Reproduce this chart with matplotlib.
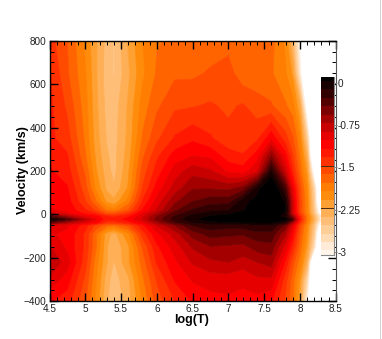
import numpy as np
import matplotlib
matplotlib.use("Agg")
import matplotlib.pyplot as plt
from matplotlib.colors import ListedColormap, BoundaryNorm
from matplotlib.patches import Rectangle
from matplotlib.ticker import MultipleLocator

plt.rcParams['font.family'] = ['Liberation Sans', 'DejaVu Sans']

log_t = [4.5, 4.75, 5, 5.15, 5.3, 5.4, 5.6, 5.8, 6, 6.25, 6.5, 6.75, 7, 7.2, 7.4, 7.6, 7.8, 7.9, 8, 8.1, 8.2, 8.3, 8.5]
velocity = [-400, -300, -220, -150, -90, -50, -38, -23, -8, 5, 20, 60, 120, 200, 270, 350, 500, 650, 800]

row_m400 = [-1.15, -1.25, -1.6, -1.95, -2.35, -2.48, -2.3, -1.9, -1.55, -1.32, -1.15, -1.08, -1.05, -1.05, -1.08, -1.15, -1.5, -1.75, -2.2, -3.0, -4, -4, -4]
row_m300 = [-0.9, -1.1, -1.5, -1.9, -2.3, -2.45, -2.25, -1.8, -1.45, -1.15, -1.0, -0.95, -0.95, -1.0, -0.9, -0.9, -1.4, -1.7, -2.05, -2.7, -4, -4, -4]
row_m220 = [-0.72, -0.95, -1.4, -1.85, -2.2, -2.38, -2.1, -1.7, -1.3, -1.05, -0.85, -0.75, -0.72, -0.78, -0.72, -0.65, -1.2, -1.55, -1.85, -2.3, -4, -4, -4]
row_m150 = [-0.85, -1.05, -1.35, -1.75, -2.2, -2.35, -2.1, -1.6, -1.2, -0.95, -0.7, -0.58, -0.6, -0.62, -0.5, -0.47, -0.95, -1.3, -1.7, -2.1, -2.8, -4, -4]
row_m90 = [-1.0, -1.05, -1.35, -1.75, -2.15, -2.28, -1.95, -1.4, -1.05, -0.8, -0.5, -0.35, -0.38, -0.4, -0.32, -0.32, -0.7, -1.1, -1.6, -2.0, -2.6, -4, -4]
row_m50 = [-0.95, -1.0, -1.25, -1.5, -1.7, -1.75, -1.55, -1.2, -0.85, -0.55, -0.25, -0.17, -0.2, -0.18, -0.12, -0.12, -0.45, -0.95, -1.5, -1.95, -2.5, -3.4, -4]
row_m38 = [-0.4, -0.7, -0.95, -1.1, -1.4, -1.4, -1.25, -1.0, -0.65, -0.3, -0.1, 0.0, 0.02, 0.05, 0.05, 0.05, -0.15, -0.7, -1.35, -1.85, -2.4, -3.2, -4]
row_m23 = [0.05, -0.3, -0.75, -1.0, -1.25, -1.25, -1.1, -0.85, -0.5, -0.2, 0.0, 0.1, 0.1, 0.1, 0.1, 0.1, 0.1, -0.3, -1.2, -1.8, -2.3, -3.0, -4]
row_m8 = [-0.35, -0.7, -1.0, -1.1, -1.3, -1.35, -1.2, -0.9, -0.55, -0.25, -0.05, 0.05, 0.1, 0.1, 0.1, 0.15, -0.05, -0.6, -1.3, -1.8, -2.35, -3.05, -4]
row_p5 = [-0.8, -1.0, -1.2, -1.3, -1.6, -1.6, -1.4, -1.0, -0.7, -0.35, -0.15, -0.05, 0.0, 0.1, 0.1, 0.15, 0.0, -0.85, -1.45, -1.9, -2.5, -3.3, -4]
row_p20 = [-1.0, -1.05, -1.3, -1.5, -1.8, -1.85, -1.6, -1.15, -0.85, -0.45, -0.25, -0.15, -0.12, 0.02, 0.1, 0.2, 0.05, -0.85, -1.5, -1.9, -2.55, -3.5, -4]
row_p60 = [-1.05, -1.1, -1.45, -1.75, -2.1, -2.18, -1.85, -1.3, -0.95, -0.6, -0.42, -0.33, -0.33, -0.03, 0.1, 0.25, 0.0, -0.85, -1.5, -1.9, -2.6, -4, -4]
row_p120 = [-1.1, -1.15, -1.55, -1.95, -2.25, -2.35, -2.05, -1.45, -1.1, -0.8, -0.58, -0.58, -0.6, -0.5, -0.05, 0.3, -0.3, -1.0, -1.55, -1.95, -2.7, -4, -4]
row_p200 = [-1.15, -1.25, -1.65, -2.05, -2.3, -2.42, -2.1, -1.55, -1.25, -0.95, -0.78, -0.85, -1.05, -1.1, -0.9, -0.1, -0.85, -1.3, -1.7, -2.1, -3.3, -4, -4]
row_p270 = [-1.2, -1.3, -1.75, -2.1, -2.35, -2.42, -2.15, -1.65, -1.35, -1.1, -1.02, -1.05, -1.25, -1.3, -1.1, -0.55, -1.1, -1.45, -1.8, -2.3, -4, -4, -4]
row_p350 = [-1.28, -1.4, -1.8, -2.15, -2.38, -2.43, -2.18, -1.75, -1.5, -1.3, -1.2, -1.3, -1.42, -1.45, -1.35, -1.05, -1.4, -1.6, -1.9, -2.6, -4, -4, -4]
row_p500 = [-1.28, -1.5, -1.85, -2.18, -2.42, -2.45, -2.2, -1.85, -1.65, -1.5, -1.48, -1.45, -1.5, -1.45, -1.55, -1.6, -1.75, -1.85, -2.2, -3.3, -4, -4, -4]
row_p650 = [-1.3, -1.6, -1.9, -2.2, -2.45, -2.53, -2.25, -1.95, -1.75, -1.65, -1.65, -1.6, -1.55, -1.72, -1.72, -1.75, -1.9, -2.1, -2.9, -4, -4, -4, -4]
row_p800 = [-1.4, -1.62, -1.95, -2.2, -2.42, -2.53, -2.2, -1.92, -1.78, -1.75, -1.7, -1.7, -1.68, -1.68, -1.68, -1.72, -1.95, -2.4, -3.1, -4, -4, -4, -4]

rows = [row_m400, row_m300, row_m220, row_m150, row_m90, row_m50, row_m38, row_m23, row_m8, row_p5,
        row_p20, row_p60, row_p120, row_p200, row_p270, row_p350, row_p500, row_p650, row_p800]

band_colors = [(255,245,235),(255,235,215),(255,220,180),(255,205,150),(255,190,120),(255,175,85),
               (255,160,50),(255,140,10),(255,125,0),(255,100,0),(255,75,0),(255,50,0),(255,25,0),
               (255,0,0),(230,0,0),(200,0,0),(165,0,0),(125,0,0),(85,0,0),(50,0,0),(25,0,0),(0,0,0)]
inner_levels = [-2.97, -2.82, -2.67, -2.52, -2.37, -2.22, -2.07, -1.92, -1.77, -1.62, -1.47, -1.32,
                -1.17, -1.02, -0.87, -0.72, -0.57, -0.42, -0.27, -0.12, 0.03]
level_low, level_high = -3.05, 5.0
cbar_ticks = [0, -0.75, -1.5, -2.25, -3]
cbar_labels = ['0', '-0.75', '-1.5', '-2.25', '-3']

W, H = 382, 339
fig = plt.figure(figsize=(W / 100, H / 100), dpi=100, facecolor='white')

def box(x0, y0, x1, y1):
    return [x0 / W, 1 - y1 / H, (x1 - x0) / W, (y1 - y0) / H]

ax = fig.add_axes(box(49.5, 40.7, 335.7, 301.3))
cmap = ListedColormap([tuple(c / 255 for c in col) for col in band_colors])
levels = [level_low] + inner_levels + [level_high]
norm = BoundaryNorm(levels, cmap.N)
cs = ax.contourf(log_t, velocity, np.array(rows), levels=levels, cmap=cmap, norm=norm, antialiased=True)
cs.set_edgecolor('face')
cs.set_linewidth(0.5)

ax.set_xlim(4.5, 8.5)
ax.set_ylim(-400, 800)
ax.xaxis.set_minor_locator(MultipleLocator(0.1))
ax.yaxis.set_major_locator(MultipleLocator(200))
ax.yaxis.set_minor_locator(MultipleLocator(50))
ax.set_xticks([4.5, 5, 5.5, 6, 6.5, 7, 7.5, 8, 8.5])
ax.set_xticklabels(['4.5', '5', '5.5', '6', '6.5', '7', '7.5', '8', '8.5'])
ax.tick_params(which='major', direction='in', length=5.5, width=1.0, top=True, right=True,
               labelsize=7.2, pad=2, colors='black', labelcolor='#222222')
ax.tick_params(which='minor', direction='in', length=3.0, width=0.7, top=True, right=True)
for s in ax.spines.values():
    s.set_linewidth(1.0)
ax.spines['right'].set_color('#555555')
ax.spines['right'].set_linewidth(0.8)

fig.text(192 / W, 1 - 320 / H, 'log(T)', fontsize=9, fontweight='bold', ha='center', va='center')
fig.text(23 / W, 1 - 170.5 / H, 'Velocity (km/s)', fontsize=9, fontweight='bold', rotation=90, ha='center', va='center')

# colour legend
cax = fig.add_axes(box(320.5, 76.7, 333.7, 255))
cax.set_xlim(0, 1)
top_val = 0.106
bot_val = -3.05
cax.set_ylim(bot_val, top_val)
edges = [bot_val] + inner_levels + [top_val]
cax.pcolormesh([0, 1], edges, np.array([[(edges[i] + edges[i + 1]) / 2] for i in range(len(edges) - 1)]),
               cmap=cmap, norm=norm)
for v in (-1.47, -2.22):
    cax.axhline(v, color='#4a2a10', lw=0.7)
cax.set_xticks([])
cax.yaxis.tick_right()
cax.set_yticks(cbar_ticks)
cax.set_yticklabels(cbar_labels)
cax.tick_params(axis='y', direction='out', length=2.0, width=0.6, color='#777777',
                labelsize=7.2, pad=1, labelcolor='#222222')
for name, s in cax.spines.items():
    s.set_color('#888888')
    s.set_linewidth(0.8)
cax.spines['top'].set_visible(False)
cax.spines['left'].set_visible(False)

fig.add_artist(Rectangle((380 / W, 0), 1.2 / W, 1, transform=fig.transFigure, color='#d4d4d4', lw=0))
fig.savefig('out.png', dpi=100, facecolor='white')
